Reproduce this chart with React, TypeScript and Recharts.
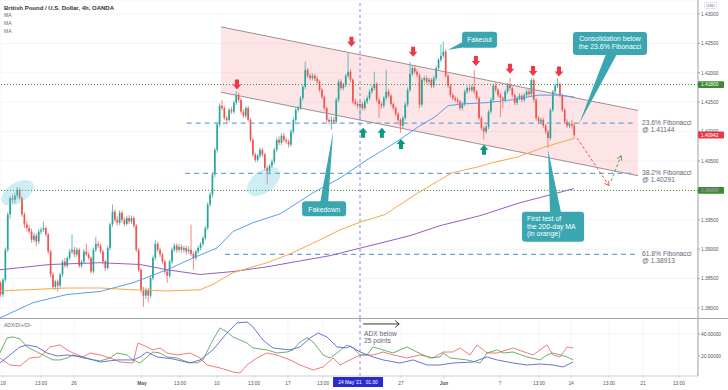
import React from 'react';
import {
  ComposedChart, LineChart, Line, Bar, Area, XAxis, YAxis, CartesianGrid,
  ReferenceLine, ReferenceDot,
} from 'recharts';

type OHLC = [number, number, number, number];
type Pt = [number, number];

// ---- 4h candles [open, high, low, close], one array per trading week ----
const wkApr19: OHLC[] = [
  [1.3843,1.3846,1.3819,1.3823],[1.3823,1.3851,1.3818,1.3848],[1.3848,1.3903,1.3844,1.3899],[1.3899,1.3963,1.3895,1.3959],
  [1.3959,1.3990,1.3952,1.3987],[1.3987,1.3993,1.3979,1.3984],[1.3984,1.3996,1.3978,1.3991],[1.3991,1.4006,1.3986,1.4001],
  [1.4001,1.4004,1.3984,1.3987],[1.3987,1.3990,1.3955,1.3959],[1.3959,1.3963,1.3936,1.3942],[1.3942,1.3948,1.3930,1.3936],
  [1.3936,1.3941,1.3926,1.3930],[1.3930,1.3935,1.3911,1.3916],[1.3916,1.3928,1.3912,1.3923],[1.3923,1.3927,1.3905,1.3913],
  [1.3913,1.3934,1.3909,1.3930],[1.3930,1.3937,1.3925,1.3933],[1.3933,1.3947,1.3929,1.3936],[1.3936,1.3939,1.3921,1.3925],
  [1.3925,1.3928,1.3892,1.3896],[1.3896,1.3899,1.3852,1.3857],[1.3857,1.3861,1.3832,1.3836],[1.3836,1.3848,1.3831,1.3845],
  [1.3845,1.3849,1.3828,1.3838],[1.3838,1.3860,1.3834,1.3857],[1.3857,1.3882,1.3853,1.3879],[1.3879,1.3885,1.3869,1.3872],
  [1.3872,1.3888,1.3868,1.3885],[1.3885,1.3900,1.3881,1.3896],[1.3896,1.3925,1.3892,1.3899],
];
const wkApr26: OHLC[] = [
  [1.3899,1.3904,1.3886,1.3891],[1.3891,1.3903,1.3887,1.3899],[1.3899,1.3902,1.3868,1.3872],[1.3872,1.3882,1.3868,1.3879],
  [1.3879,1.3900,1.3875,1.3896],[1.3896,1.3910,1.3888,1.3891],[1.3891,1.3895,1.3882,1.3885],[1.3885,1.3888,1.3858,1.3862],
  [1.3862,1.3903,1.3859,1.3899],[1.3899,1.3921,1.3895,1.3909],[1.3909,1.3914,1.3902,1.3906],[1.3906,1.3910,1.3892,1.3896],
  [1.3896,1.3899,1.3875,1.3879],[1.3879,1.3882,1.3863,1.3868],[1.3868,1.3906,1.3865,1.3902],[1.3902,1.3945,1.3898,1.3942],
  [1.3942,1.3976,1.3938,1.3964],[1.3964,1.3968,1.3946,1.3950],[1.3950,1.3956,1.3940,1.3945],[1.3945,1.3966,1.3941,1.3962],
  [1.3962,1.3966,1.3946,1.3950],[1.3950,1.3954,1.3939,1.3943],[1.3943,1.3957,1.3940,1.3953],[1.3953,1.3958,1.3943,1.3947],
  [1.3947,1.3957,1.3943,1.3953],[1.3953,1.3956,1.3936,1.3940],[1.3940,1.3943,1.3895,1.3899],[1.3899,1.3902,1.3861,1.3865],
  [1.3865,1.3868,1.3826,1.3831],[1.3831,1.3836,1.3802,1.3821],
];
const wkMay03: OHLC[] = [
  [1.3821,1.3835,1.3815,1.3831],[1.3831,1.3834,1.3810,1.3821],[1.3821,1.3855,1.3817,1.3851],[1.3851,1.3889,1.3847,1.3885],
  [1.3885,1.3916,1.3881,1.3909],[1.3909,1.3913,1.3895,1.3899],[1.3899,1.3903,1.3887,1.3891],[1.3891,1.3894,1.3875,1.3879],
  [1.3879,1.3882,1.3858,1.3862],[1.3862,1.3866,1.3843,1.3855],[1.3855,1.3882,1.3851,1.3879],[1.3879,1.3903,1.3875,1.3899],
  [1.3899,1.3910,1.3895,1.3906],[1.3906,1.3910,1.3894,1.3899],[1.3899,1.3909,1.3895,1.3904],[1.3904,1.3908,1.3894,1.3899],
  [1.3899,1.3906,1.3894,1.3902],[1.3902,1.3906,1.3890,1.3896],[1.3896,1.3905,1.3892,1.3899],[1.3899,1.3942,1.3888,1.3892],
  [1.3892,1.3896,1.3865,1.3885],[1.3885,1.3899,1.3881,1.3896],[1.3896,1.3906,1.3892,1.3902],[1.3902,1.3912,1.3898,1.3909],
  [1.3909,1.3922,1.3905,1.3919],[1.3919,1.3940,1.3915,1.3936],[1.3936,1.3980,1.3932,1.3976],[1.3976,1.3997,1.3972,1.3993],
  [1.3993,1.4031,1.3988,1.4027],[1.4027,1.4073,1.4022,1.4069],
];
const wkMay10: OHLC[] = [
  [1.4069,1.4116,1.4064,1.4112],[1.4112,1.4148,1.4108,1.4144],[1.4144,1.4154,1.4136,1.4140],[1.4140,1.4144,1.4119,1.4123],
  [1.4123,1.4127,1.4115,1.4120],[1.4120,1.4140,1.4116,1.4137],[1.4137,1.4142,1.4130,1.4134],[1.4134,1.4153,1.4130,1.4149],
  [1.4149,1.4169,1.4145,1.4162],[1.4162,1.4166,1.4150,1.4154],[1.4154,1.4157,1.4130,1.4134],[1.4134,1.4138,1.4123,1.4127],
  [1.4127,1.4143,1.4123,1.4140],[1.4140,1.4144,1.4116,1.4120],[1.4120,1.4123,1.4082,1.4086],[1.4086,1.4089,1.4057,1.4061],
  [1.4061,1.4064,1.4048,1.4052],[1.4052,1.4062,1.4048,1.4059],[1.4059,1.4073,1.4055,1.4069],[1.4069,1.4072,1.4057,1.4061],
  [1.4061,1.4064,1.4034,1.4038],[1.4038,1.4042,1.4010,1.4032],[1.4032,1.4045,1.4027,1.4042],[1.4042,1.4053,1.4038,1.4049],
  [1.4049,1.4073,1.4045,1.4069],[1.4069,1.4090,1.4065,1.4086],[1.4086,1.4092,1.4077,1.4081],[1.4081,1.4097,1.4077,1.4093],
  [1.4093,1.4098,1.4082,1.4086],[1.4086,1.4090,1.4079,1.4083],
];
const wkMay17: OHLC[] = [
  [1.4083,1.4087,1.4073,1.4078],[1.4078,1.4104,1.4074,1.4100],[1.4100,1.4124,1.4096,1.4120],[1.4120,1.4141,1.4116,1.4137],
  [1.4137,1.4144,1.4132,1.4140],[1.4140,1.4161,1.4136,1.4157],[1.4157,1.4180,1.4153,1.4176],[1.4176,1.4219,1.4172,1.4205],
  [1.4205,1.4208,1.4191,1.4195],[1.4195,1.4199,1.4187,1.4191],[1.4191,1.4199,1.4187,1.4195],[1.4195,1.4198,1.4186,1.4190],
  [1.4190,1.4194,1.4181,1.4185],[1.4185,1.4188,1.4167,1.4171],[1.4171,1.4174,1.4155,1.4159],[1.4159,1.4162,1.4136,1.4140],
  [1.4140,1.4143,1.4116,1.4120],[1.4120,1.4124,1.4112,1.4117],[1.4117,1.4126,1.4103,1.4120],[1.4120,1.4125,1.4113,1.4117],
  [1.4117,1.4158,1.4113,1.4154],[1.4154,1.4189,1.4150,1.4185],[1.4185,1.4189,1.4170,1.4174],[1.4174,1.4183,1.4170,1.4180],
  [1.4180,1.4198,1.4176,1.4195],[1.4195,1.4234,1.4191,1.4202],[1.4202,1.4206,1.4184,1.4188],[1.4188,1.4191,1.4147,1.4151],
  [1.4151,1.4156,1.4143,1.4147],[1.4147,1.4151,1.4139,1.4144],
];
const wkMay24: OHLC[] = [
  [1.4144,1.4152,1.4123,1.4147],[1.4147,1.4151,1.4136,1.4140],[1.4140,1.4155,1.4136,1.4151],[1.4151,1.4161,1.4147,1.4157],
  [1.4157,1.4172,1.4153,1.4168],[1.4168,1.4178,1.4164,1.4174],[1.4174,1.4202,1.4170,1.4181],[1.4181,1.4184,1.4150,1.4154],
  [1.4154,1.4158,1.4123,1.4147],[1.4147,1.4151,1.4139,1.4144],[1.4144,1.4161,1.4140,1.4157],[1.4157,1.4205,1.4153,1.4168],
  [1.4168,1.4172,1.4157,1.4161],[1.4161,1.4164,1.4143,1.4147],[1.4147,1.4150,1.4136,1.4140],[1.4140,1.4143,1.4126,1.4130],
  [1.4130,1.4133,1.4116,1.4120],[1.4120,1.4123,1.4098,1.4110],[1.4110,1.4127,1.4106,1.4123],[1.4123,1.4150,1.4119,1.4146],
  [1.4146,1.4175,1.4142,1.4171],[1.4171,1.4219,1.4167,1.4198],[1.4198,1.4212,1.4194,1.4208],[1.4208,1.4212,1.4198,1.4202],
  [1.4202,1.4206,1.4192,1.4196],[1.4196,1.4199,1.4140,1.4146],[1.4146,1.4192,1.4142,1.4188],[1.4188,1.4195,1.4183,1.4191],
  [1.4191,1.4195,1.4181,1.4185],[1.4185,1.4192,1.4180,1.4188],
];
const wkMay31: OHLC[] = [
  [1.4188,1.4191,1.4174,1.4178],[1.4178,1.4195,1.4174,1.4191],[1.4191,1.4212,1.4187,1.4208],[1.4208,1.4225,1.4204,1.4222],
  [1.4222,1.4248,1.4218,1.4229],[1.4229,1.4253,1.4225,1.4236],[1.4236,1.4240,1.4191,1.4195],[1.4195,1.4198,1.4174,1.4178],
  [1.4178,1.4181,1.4158,1.4162],[1.4162,1.4166,1.4153,1.4157],[1.4157,1.4161,1.4150,1.4154],[1.4154,1.4158,1.4147,1.4151],
  [1.4151,1.4154,1.4136,1.4140],[1.4140,1.4151,1.4136,1.4147],[1.4147,1.4171,1.4143,1.4168],[1.4168,1.4178,1.4164,1.4174],
  [1.4174,1.4178,1.4167,1.4171],[1.4171,1.4180,1.4167,1.4176],[1.4176,1.4205,1.4164,1.4168],[1.4168,1.4171,1.4153,1.4157],
  [1.4157,1.4160,1.4119,1.4123],[1.4123,1.4126,1.4102,1.4106],[1.4106,1.4110,1.4086,1.4100],[1.4100,1.4112,1.4096,1.4108],
  [1.4108,1.4137,1.4104,1.4134],[1.4134,1.4158,1.4130,1.4154],[1.4154,1.4181,1.4150,1.4178],[1.4178,1.4183,1.4167,1.4171],
  [1.4171,1.4174,1.4158,1.4162],[1.4162,1.4166,1.4125,1.4157],
];
const wkJun07: OHLC[] = [
  [1.4157,1.4160,1.4140,1.4154],[1.4154,1.4171,1.4150,1.4168],[1.4168,1.4183,1.4164,1.4180],[1.4180,1.4191,1.4170,1.4174],
  [1.4174,1.4177,1.4158,1.4162],[1.4162,1.4165,1.4145,1.4149],[1.4149,1.4161,1.4145,1.4157],[1.4157,1.4165,1.4153,1.4161],
  [1.4161,1.4164,1.4150,1.4154],[1.4154,1.4166,1.4150,1.4162],[1.4162,1.4172,1.4158,1.4168],[1.4168,1.4172,1.4160,1.4164],
  [1.4164,1.4191,1.4160,1.4188],[1.4188,1.4191,1.4150,1.4154],[1.4154,1.4157,1.4119,1.4123],[1.4123,1.4127,1.4113,1.4117],
  [1.4117,1.4124,1.4112,1.4120],[1.4120,1.4123,1.4106,1.4110],[1.4110,1.4113,1.4096,1.4100],[1.4100,1.4103,1.4072,1.4089],
  [1.4089,1.4140,1.4085,1.4137],[1.4137,1.4171,1.4133,1.4168],[1.4168,1.4181,1.4164,1.4178],[1.4178,1.4191,1.4174,1.4181],
  [1.4181,1.4184,1.4158,1.4162],[1.4162,1.4165,1.4133,1.4137],[1.4137,1.4140,1.4113,1.4117],[1.4117,1.4121,1.4106,1.4110],
  [1.4110,1.4117,1.4106,1.4113],[1.4113,1.4120,1.4105,1.4110],
];
const wkJun14: OHLC[] = [[1.4110,1.4115,1.4090,1.4094]];
const FIRST_BAR = -1;

// ---- moving averages [bar, price] ----
const maBlue: Pt[] = [[-1.3,1.3783],[12.6,1.3809],[26.9,1.3823],[40.8,1.3828],[54.6,1.3843],[68.9,1.3865],[79.8,1.3885],[89.9,1.3902],[96.6,1.3930],[105,1.3945],[116.4,1.3960],[130.3,1.3996],[141.6,1.4021],[152.9,1.4052],[164.7,1.4081],[174.4,1.4108],[181.5,1.4125],[187,1.4144],[192.9,1.4147],[202.5,1.4149],[213.9,1.4154],[224.8,1.4162],[233.2,1.4162],[239.9,1.4159]];
const maOrange: Pt[] = [[-1.3,1.3829],[26.9,1.3834],[40.8,1.3834],[54.6,1.3831],[68.9,1.3829],[82.8,1.3831],[88.2,1.3840],[96.6,1.3860],[110.9,1.3877],[120.6,1.3892],[133.2,1.3916],[141.6,1.3933],[150.8,1.3947],[160.5,1.3959],[174.4,1.3996],[188.7,1.4030],[199.6,1.4040],[205.5,1.4047],[216.4,1.4057],[227.7,1.4074],[240.3,1.4089]];
const maPurple: Pt[] = [[-1.3,1.3865],[19.7,1.3874],[40.8,1.3877],[57.6,1.3874],[68.9,1.3865],[82.8,1.3857],[96.6,1.3862],[110.9,1.3870],[120.6,1.3877],[137.4,1.3889],[154.2,1.3906],[171,1.3923],[183.6,1.3940],[200.4,1.3957],[217.2,1.3979],[239.9,1.4003]];

// ---- ADX / DI+ / DI- [bar, value] ----
const adxVals: Pt[] = [[-1.3,13.6],[2.9,20.9],[7.1,28.2],[10.1,30],[14.3,28.2],[18.5,22.7],[22.7,20],[26.9,20.9],[33.6,19.1],[40.8,14.5],[47.9,16.4],[54.6,16.4],[57.6,19.1],[60.5,23.6],[64.7,19.1],[71.4,17.3],[78.6,13.6],[82.8,16.4],[88.2,25.5],[94.1,40.9],[98.3,50],[102.5,50.9],[105,46.4],[109.2,34.5],[113.4,27.3],[120.6,25.5],[124.8,28.2],[129,36.4],[132.4,40.9],[136.1,37.3],[140.3,28.2],[144.5,27.3],[145.8,29.1],[150,23.6],[155.5,19.1],[159.7,16.4],[166.8,13.6],[172.3,16.4],[178.2,11.8],[183.6,11.8],[189.1,13.6],[197.5,14.5],[203.4,19.1],[207.6,16.4],[214.3,13.6],[220.2,11.8],[225.6,12.7],[231.1,11.8],[235.3,10],[239.5,14.5]];
const diPlusVals: Pt[] = [[-1.3,22.7],[1.7,36.4],[4.2,37.3],[7.1,35.5],[10.1,28.2],[12.6,25.5],[16.8,20.9],[21,16.4],[24,16.4],[26.9,18.2],[29.4,20.9],[33.6,18.2],[40.8,15.5],[45,18.2],[47.9,22.7],[52.1,20.9],[54.6,16.4],[57.6,13.6],[60.5,19.1],[63,23.6],[66,22.7],[68.9,19.1],[73.1,18.2],[77.3,14.5],[81.5,13.6],[84,16.4],[86.1,25.5],[88.2,34.5],[91.2,45.5],[94.1,41.8],[96.6,37.3],[99.6,34.5],[102.5,31.8],[105,27.3],[110.9,25.5],[115.1,22.7],[119.3,23.6],[121.8,25.5],[124.8,32.7],[127.7,36.4],[130.3,32.7],[134.5,20.9],[137.4,18.2],[140.3,22.7],[144.5,30],[147.1,27.3],[150,20.9],[152.9,20.9],[155.5,28.2],[159.7,25.5],[163.9,22.7],[169.7,28.2],[173.9,23.6],[179.4,18.2],[183.6,19.1],[184.9,22.7],[187.8,18.2],[195,16.4],[200.4,13.6],[203.4,22.7],[207.6,25.5],[210.1,22.7],[214.3,23.6],[220.2,19.1],[225.6,16.4],[228.6,20.9],[231.1,22.7],[237,19.1],[239.5,16.4]];
const diMinusVals: Pt[] = [[-1.3,18.2],[2.9,11.8],[7.1,10.9],[11.3,18.2],[15.5,19.1],[19.7,28.2],[24,30],[26.9,25.5],[29.4,22.7],[33.6,19.1],[36.6,22.7],[40.8,20.9],[45,18.2],[49.2,14.5],[54.6,13.6],[56.7,31.8],[60.5,28.2],[63,25.5],[66,27.3],[68.9,22.7],[73.1,20.9],[78.6,22.7],[82.8,18.2],[85.7,11.8],[91.2,9.1],[96.6,5.5],[99.6,4.5],[102.5,11.8],[106.7,18.2],[110.9,22.7],[115.1,20.9],[120.6,16.4],[124.8,11.8],[130.3,7.3],[134.5,10],[138.7,18.2],[141.6,11.8],[145.8,16.4],[150,20.9],[155.5,20.9],[159.7,23.6],[163.9,20.9],[169.7,18.2],[175.2,20.9],[180.7,18.2],[184.9,23.6],[189.1,23.6],[192,27.3],[196.2,20.9],[199.2,30],[203.4,22.7],[207.6,22.7],[214.3,27.3],[220.2,22.7],[222.7,20.9],[225.6,25.5],[228.6,30],[231.1,20.9],[234,19.1],[237,28.2],[239.5,27.3]];

// ---- axes ----
const timeTickPos = [0, 16, 29.8, 58.4, 74.4, 89.9, 105.5, 119.7, 134.5, 167.2, 185.3, 208.8, 225.2, 238.7, 254.6, 268.9, 284];
const timeTickLabels = ['19', '13:00', '26', 'May', '13:00', '10', '13:00', '17', '13:00', '27', 'Jun', '7', '13:00', '14', '13:00', '21', '13:00'];
const priceTicks = [1.38, 1.385, 1.39, 1.395, 1.4, 1.405, 1.41, 1.415, 1.42, 1.425, 1.43];
const adxTicks = [20, 40];

// ---- drawings ----
const keyLevels = [1.418, 1.4];
const lastPrice = 1.40942;
const fibLevels = [
  { name: '23.6% Fibonacci', price: 1.41144, from: 77.2 },
  { name: '38.2% Fibonacci', price: 1.40291, from: 76.5 },
  { name: '61.8% Fibonacci', price: 1.38913, from: 93.3 },
];
const fibEnd = 265.5;
const fibLabelBar = 268.5;
const channelStart = 91.6;
const channelEnd = 266.8;
const channelUpper = [1.4278, 1.4136];
const channelLower = [1.4167, 1.4025];
const resistanceHits: Pt[] = [[98.3,1.4180],[146.4,1.4253],[172.3,1.4236],[198.7,1.4220],[213,1.4207],[222.7,1.4203],[233.6,1.4202]];
const supportHits: Pt[] = [[151.3,1.4098],[159.2,1.4098],[167.2,1.4079],[202.1,1.4069]];
const crosshairBar = 150;

const X_MIN = -1.26;
const X_MAX = 292;
const P_MIN = 1.3783;
const P_MAX = 1.43238;
const ADX_MIN = 1.8;
const ADX_MAX = 54.5;

const FONT = "'Liberation Sans', Arial, Helvetica, sans-serif";
const AXIS_TEXT = '#50535e';
const GRID = '#f0f2f6';
const TEAL = '#3aa6b0';
const UP = '#26a69a';
const DOWN = '#ef5350';

const candles = [...wkApr19, ...wkApr26, ...wkMay03, ...wkMay10, ...wkMay17, ...wkMay24, ...wkMay31, ...wkJun07, ...wkJun14]
  .map((t, k) => ({ i: FIRST_BAR + k, o: t[0], hi: t[1], lo: t[2], c: t[3], range: [t[2], t[1]] }));
const toPts = (a: Pt[]) => a.map(([i, v]) => ({ i, v }));
const channelBand = [
  { i: channelStart, band: [channelLower[0], channelUpper[0]] },
  { i: channelEnd, band: [channelLower[1], channelUpper[1]] },
];

const Candle = (p: any) => {
  const { x, y, width, height, payload } = p;
  if (!payload || x == null || y == null) return null;
  const top = Math.min(y, y + height);
  const h = Math.abs(height);
  const span = payload.hi - payload.lo;
  const k = span > 0 ? h / span : 0;
  const yO = top + (payload.hi - payload.o) * k;
  const yC = top + (payload.hi - payload.c) * k;
  const col = payload.c >= payload.o ? UP : DOWN;
  const cx = x + width / 2;
  return (
    <g>
      <line x1={cx} x2={cx} y1={top} y2={top + h} stroke={col} strokeWidth={0.7} />
      <rect x={cx - 0.85} y={Math.min(yO, yC)} width={1.7} height={Math.max(0.8, Math.abs(yC - yO))} fill={col} />
    </g>
  );
};

const arrowShape = (down: boolean, color: string) => (p: any) => {
  const { cx, cy } = p;
  const s = down ? 1 : -1;
  const pts = [
    [cx - 2, cy - 5 * s], [cx + 2, cy - 5 * s], [cx + 2, cy], [cx + 4.3, cy],
    [cx, cy + 5 * s], [cx - 4.3, cy], [cx - 2, cy],
  ].map((q) => q.join(',')).join(' ');
  return <polygon points={pts} fill={color} />;
};

const ellipseShape = (rx: number, ry: number, rot: number) => (p: any) => (
  <ellipse cx={p.cx} cy={p.cy} rx={rx} ry={ry} transform={`rotate(${rot} ${p.cx} ${p.cy})`} fill="#5cc6d6" fillOpacity={0.3} />
);

type CalloutSpec = {
  box: [number, number, number, number];
  base: [number, number, number, number];
  lines: string[];
  tx: number; ty: number; lh: number;
  anchor: 'start' | 'middle';
};
const calloutShape = (c: CalloutSpec) => (p: any) => {
  const { cx, cy } = p;
  const [bx, by, bw, bh] = c.box;
  return (
    <g>
      <polygon points={`${cx},${cy} ${cx + c.base[0]},${cy + c.base[1]} ${cx + c.base[2]},${cy + c.base[3]}`} fill={TEAL} />
      <rect x={cx + bx} y={cy + by} width={bw} height={bh} rx={3} fill={TEAL} />
      {c.lines.map((s, k) => (
        <text key={k} x={cx + c.tx} y={cy + c.ty + k * c.lh} fontSize={6.9} fill="#ffffff" textAnchor={c.anchor} fontFamily={FONT}>{s}</text>
      ))}
    </g>
  );
};

const fibLabelShape = (l1: string, l2: string) => (p: any) => (
  <g fontFamily={FONT} fontSize={6.7} fill="#5d6677">
    <text x={p.cx} y={p.cy + 1.6}>{l1}</text>
    <text x={p.cx} y={p.cy + 8.4}>{l2}</text>
  </g>
);

const priceBoxShape = (text: string, color: string) => (p: any) => (
  <g>
    <rect x={p.cx} y={p.cy - 3.4} width={26} height={6.8} fill={color} rx={0.8} />
    <text x={p.cx + 3} y={p.cy + 1.7} fontSize={4.8} fill="#ffffff" fontFamily={FONT}>{text}</text>
  </g>
);

const chevronShape = (color: string, a: Pt, b: Pt) => (p: any) => (
  <polyline points={`${p.cx + a[0]},${p.cy + a[1]} ${p.cx},${p.cy} ${p.cx + b[0]},${p.cy + b[1]}`} fill="none" stroke={color} strokeWidth={1} />
);

const adxNoteShape = (p: any) => (
  <g fontFamily={FONT}>
    <line x1={p.cx} y1={p.cy} x2={p.cx + 36} y2={p.cy} stroke="#222" strokeWidth={0.9} />
    <polyline points={`${p.cx + 32},${p.cy - 3.5} ${p.cx + 36},${p.cy} ${p.cx + 32},${p.cy + 3.5}`} fill="none" stroke="#222" strokeWidth={0.9} />
    <text x={p.cx + 1} y={p.cy + 12} fontSize={6.6} fill="#5d6677">ADX below</text>
    <text x={p.cx + 1} y={p.cy + 18.7} fontSize={6.6} fill="#5d6677">25 points</text>
  </g>
);

const crossLabelShape = (p: any) => (
  <g fontFamily={FONT}>
    <rect x={p.cx - 27} y={p.cy + 1} width={50} height={10} fill="#2a2ad3" />
    <text x={p.cx - 2} y={p.cy + 8} fontSize={4.8} fill="#ffffff" textAnchor="middle">
      24 May '21<tspan dx={4}>01:30</tspan>
    </text>
  </g>
);

const TimeTick = (p: any) => {
  const idx = timeTickPos.indexOf(p.payload.value);
  const label = idx >= 0 ? timeTickLabels[idx] : '';
  const bold = label === 'May' || label === 'Jun';
  return (
    <text x={p.x} y={p.y} dy="0.71em" textAnchor="middle" fontSize={4.8} fontWeight={bold ? 700 : 400} fill={AXIS_TEXT} fontFamily={FONT}>{label}</text>
  );
};

const fmt5 = (v: number) => v.toFixed(5);

export default function App() {
  return (
    <div style={{ position: 'absolute', left: 0, top: 0, width: 728, height: 390, background: '#ffffff', overflow: 'hidden', fontFamily: FONT }}>
      <div style={{ position: 'absolute', left: 0, top: 0 }}>
        <ComposedChart width={728} height={318} data={candles} margin={{ top: 0, right: 0, bottom: 0, left: 0 }}>
          <CartesianGrid stroke={GRID} strokeWidth={0.8} />
          <XAxis dataKey="i" type="number" domain={[X_MIN, X_MAX]} allowDataOverflow ticks={timeTickPos} height={0} tick={false} tickLine={false} axisLine={false} />
          <YAxis orientation="right" type="number" domain={[P_MIN, P_MAX]} allowDataOverflow ticks={priceTicks} tickFormatter={fmt5} width={30}
            tick={{ fontSize: 4.8, fill: AXIS_TEXT }} tickSize={2} tickMargin={1} stroke="#a0a3ab" />
          <Area data={channelBand} dataKey="band" type="linear" stroke="none" fill="#f23645" fillOpacity={0.13} isAnimationActive={false} dot={false} activeDot={false} />
          <ReferenceLine segment={[{ x: channelStart, y: channelUpper[0] }, { x: channelEnd, y: channelUpper[1] }]} stroke="#a58d90" strokeWidth={1} ifOverflow="visible" />
          <ReferenceLine segment={[{ x: channelStart, y: channelLower[0] }, { x: channelEnd, y: channelLower[1] }]} stroke="#a58d90" strokeWidth={1} ifOverflow="visible" />
          {keyLevels.map((lv) => (
            <ReferenceLine key={lv} y={lv} stroke="#4b8a3c" strokeDasharray="1 2" strokeWidth={1} />
          ))}
          {fibLevels.map((f) => (
            <ReferenceLine key={f.name} segment={[{ x: f.from, y: f.price }, { x: fibEnd, y: f.price }]} stroke="#6fa3d8" strokeDasharray="5 4" strokeWidth={1.2} ifOverflow="visible" />
          ))}
          <ReferenceLine x={crosshairBar} stroke="#7f77dd" strokeDasharray="3 3" strokeWidth={0.9} />
          <Line data={toPts(maPurple)} dataKey="v" stroke="#9b5cc4" strokeWidth={1} dot={false} activeDot={false} isAnimationActive={false} />
          <Line data={toPts(maOrange)} dataKey="v" stroke="#f6a945" strokeWidth={1} dot={false} activeDot={false} isAnimationActive={false} />
          <Line data={toPts(maBlue)} dataKey="v" stroke="#5b9ee6" strokeWidth={1} dot={false} activeDot={false} isAnimationActive={false} />
          <Bar dataKey="range" barSize={2} shape={(p: any) => <Candle {...p} />} isAnimationActive={false} />

          <ReferenceDot x={6.1} y={1.3996} r={1} ifOverflow="visible" shape={ellipseShape(18, 10, -32)} />
          <ReferenceDot x={109.5} y={1.4015} r={1} ifOverflow="visible" shape={ellipseShape(19, 11, -38)} />
          {resistanceHits.map(([i, v]) => (
            <ReferenceDot key={`r${i}`} x={i} y={v} r={1} ifOverflow="visible" shape={arrowShape(true, '#f23645')} />
          ))}
          {supportHits.map(([i, v]) => (
            <ReferenceDot key={`s${i}`} x={i} y={v} r={1} ifOverflow="visible" shape={arrowShape(false, '#089981')} />
          ))}
          {fibLevels.map((f) => (
            <ReferenceDot key={`fl${f.name}`} x={fibLabelBar} y={f.price} r={1} ifOverflow="visible" shape={fibLabelShape(f.name, `@ ${f.price.toFixed(5)}`)} />
          ))}
          <ReferenceLine segment={[{ x: 241.2, y: 1.4089 }, { x: 254.6, y: 1.4008 }]} stroke="#f05a5a" strokeDasharray="3 2" strokeWidth={1} ifOverflow="visible" />
          <ReferenceDot x={254.6} y={1.4008} r={1} ifOverflow="visible" shape={chevronShape('#f05a5a', [-0.3, -5], [-4.5, -2.2])} />
          <ReferenceLine segment={[{ x: 255.5, y: 1.4016 }, { x: 259.7, y: 1.4059 }]} stroke="#5aa55a" strokeDasharray="3 2" strokeWidth={1} ifOverflow="visible" />
          <ReferenceDot x={259.7} y={1.4059} r={1} ifOverflow="visible" shape={chevronShape('#5aa55a', [-4, 3], [0.6, 5])} />

          <ReferenceDot x={138.7} y={1.4100} r={1} ifOverflow="visible"
            shape={calloutShape({ box: [-31, 69.7, 44, 15], base: [-13, 71, -5, 71], lines: ['Fakedown'], tx: -9, ty: 80, lh: 7.3, anchor: 'middle' })} />
          <ReferenceDot x={187} y={1.4239} r={1} ifOverflow="visible"
            shape={calloutShape({ box: [14, -18, 35, 16], base: [15, -8, 20, -3], lines: ['Fakeout'], tx: 31.5, ty: -7.4, lh: 7.3, anchor: 'middle' })} />
          <ReferenceDot x={242} y={1.4113} r={1} ifOverflow="visible"
            shape={calloutShape({ box: [-6, -92, 74, 23], base: [27, -70, 38, -70], lines: ['Consolidation below', 'the 23.6% Fibonacci'], tx: 31, ty: -82.6, lh: 7.6, anchor: 'middle' })} />
          <ReferenceDot x={229} y={1.4069} r={1} ifOverflow="visible"
            shape={calloutShape({ box: [-26, 62, 62, 30], base: [2, 63, 13, 63], lines: ['First test of', 'the 200-day MA', '(in orange)'], tx: -21, ty: 71.6, lh: 7.5, anchor: 'start' })} />

          {keyLevels.map((lv) => (
            <ReferenceDot key={`pb${lv}`} x={X_MAX} y={lv} r={1} ifOverflow="visible" shape={priceBoxShape(fmt5(lv), '#3e8a33')} />
          ))}
          <ReferenceDot x={X_MAX} y={lastPrice} r={1} ifOverflow="visible" shape={priceBoxShape(fmt5(lastPrice), '#f23645')} />
        </ComposedChart>
      </div>

      <div style={{ position: 'absolute', left: 0, top: 318 }}>
        <LineChart width={728} height={72} margin={{ top: 0, right: 0, bottom: 0, left: 0 }}>
          <CartesianGrid stroke={GRID} strokeWidth={0.8} />
          <XAxis dataKey="i" type="number" domain={[X_MIN, X_MAX]} allowDataOverflow ticks={timeTickPos} interval={0} height={14}
            tick={<TimeTick />} tickSize={2} tickMargin={4} stroke="#d1d4dc" />
          <YAxis orientation="right" type="number" domain={[ADX_MIN, ADX_MAX]} allowDataOverflow ticks={adxTicks} tickFormatter={fmt5} width={30}
            tick={{ fontSize: 4.8, fill: AXIS_TEXT }} tickSize={2} tickMargin={1} stroke="#a0a3ab" />
          <ReferenceLine x={crosshairBar} stroke="#7f77dd" strokeDasharray="3 3" strokeWidth={0.9} />
          <Line data={toPts(diMinusVals)} dataKey="v" stroke="#ef6b6b" strokeWidth={0.9} dot={false} activeDot={false} isAnimationActive={false} />
          <Line data={toPts(diPlusVals)} dataKey="v" stroke="#5ea55e" strokeWidth={0.9} dot={false} activeDot={false} isAnimationActive={false} />
          <Line data={toPts(adxVals)} dataKey="v" stroke="#5b63d6" strokeWidth={0.9} dot={false} activeDot={false} isAnimationActive={false} />
          <ReferenceDot x={151.3} y={49.1} r={1} ifOverflow="visible" shape={adxNoteShape} />
          <ReferenceDot x={crosshairBar} y={ADX_MIN} r={1} ifOverflow="visible" shape={crossLabelShape} />
        </LineChart>
      </div>

      <svg width={728} height={390} style={{ position: 'absolute', left: 0, top: 0, pointerEvents: 'none' }}>
        <line x1={0} x2={728} y1={318.5} y2={318.5} stroke="#a3a6af" strokeWidth={1} />
        <text x={4} y={9.5} fontSize={6} fontWeight={700} fill="#333333" fontFamily={FONT}>British Pound / U.S. Dollar, 4h, OANDA</text>
        <text x={4} y={16.7} fontSize={5} fill="#6a6d78" fontFamily={FONT}>MA</text>
        <text x={4} y={25} fontSize={5} fill="#6a6d78" fontFamily={FONT}>MA</text>
        <text x={4} y={33.3} fontSize={5} fill="#6a6d78" fontFamily={FONT}>MA</text>
        <text x={4} y={327} fontSize={5} fill="#6a6d78" fontFamily={FONT}>ADX/DI+/DI-</text>
        <rect x={704.5} y={2.5} width={12} height={6} rx={1} fill="#ffffff" stroke="#d1d4dc" strokeWidth={0.6} />
        <text x={710.5} y={7.1} fontSize={4} fill="#6a6d78" textAnchor="middle" fontFamily={FONT}>USD</text>
      </svg>
    </div>
  );
}
